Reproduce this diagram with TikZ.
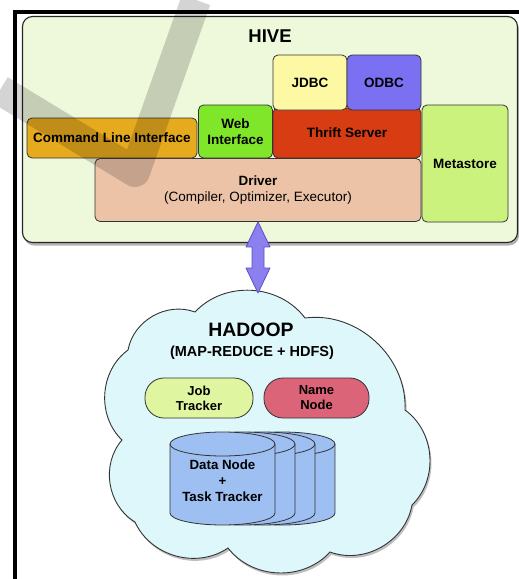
\documentclass[tikz,border=0pt]{standalone}
\usepackage{fontspec}
\setmainfont{Liberation Sans}
\usetikzlibrary{shadows,calc}
\definecolor{hivebg}{HTML}{EEF8DA}
\definecolor{jdbcc}{HTML}{FCF8A4}
\definecolor{odbcc}{HTML}{7C70F2}
\definecolor{thriftc}{HTML}{D83C12}
\definecolor{webc}{HTML}{7FE62A}
\definecolor{clic}{HTML}{E6AA1E}
\definecolor{metac}{HTML}{CCF27E}
\definecolor{driverc}{HTML}{EDC3A8}
\definecolor{arrowc}{HTML}{8C80F0}
\definecolor{arrowl}{HTML}{5A50C0}
\definecolor{cloudc}{HTML}{DDF7FB}
\definecolor{jobc}{HTML}{E0F5A0}
\definecolor{namec}{HTML}{DB6478}
\definecolor{cylc}{HTML}{9EBFF2}
\definecolor{linec}{HTML}{333333}
\begin{document}
\begin{tikzpicture}[x=1pt,y=-1pt,
  box/.style={draw=linec, line width=0.8pt, rounded corners=5pt, inner sep=0pt,
    align=center, font=\fontsize{13.5}{15.5}\selectfont\bfseries},
  pill/.style={draw=linec, line width=0.8pt, rounded corners=19pt, inner sep=0pt,
    align=center, minimum height=40pt, font=\fontsize{13}{15}\selectfont\bfseries},
  cylfill/.style={fill=cylc},
  cylline/.style={draw=linec, line width=0.8pt},
  titletext/.style={font=\fontsize{18.5}{20}\selectfont\bfseries},
  bigarrow/.style={fill=arrowc, draw=arrowl, line width=0.8pt, line join=round},
  cloudshape/.style={fill=cloudc, draw=linec, line width=0.9pt,
    drop shadow={shadow xshift=1.5pt, shadow yshift=-2.5pt, opacity=0.5}}]
\useasboundingbox (0,0) rectangle (519,579);
\fill[white] (0,0) rectangle (519,579);

% HIVE container
\node[draw=black!85, line width=1.1pt, rounded corners=10pt, fill=hivebg, minimum width=495pt, minimum height=226pt,
  drop shadow={shadow xshift=1.5pt, shadow yshift=-3pt, opacity=0.6}] (hive) at (270,129.5) {};
\node[titletext] (hivetitle) at (270,36) {HIVE};

% Driver and components
\node[box, fill=driverc, minimum width=326pt, minimum height=63pt] (driver) at (258,190)
  {\fontsize{13.4}{17}\selectfont\textbf{Driver}\\\mdseries (Compiler, Optimizer, Executor)};
\node[box, fill=metac, minimum width=86pt, minimum height=117pt] (meta) at (465,163.5) {Metastore};
\node[box, fill=clic, minimum width=170pt, minimum height=40pt] (cli) at (112,138) {Command Line Interface};
\node[box, fill=webc, minimum width=74pt, minimum height=53pt] (web) at (235.5,131.5) {Web\\Interface};
\node[box, fill=thriftc, minimum width=148pt, minimum height=50pt] (thrift) at (347,133) {Thrift Server};
\node[box, fill=jdbcc, minimum width=74pt, minimum height=55pt] (jdbc) at (310,82.5) {JDBC};
\node[box, fill=odbcc, minimum width=74pt, minimum height=55pt] (odbc) at (384,82.5) {ODBC};

% Cloud
\path[cloudshape] (195,312) to[bend left=50] (305,318) to[bend left=50] (405,410)
  to[bend left=50] (412,505) to[bend left=50] (330,552) to[bend left=50] (228,548)
  to[bend left=50] (135,522) to[bend left=50] (122,440) to[bend left=50] (128,350)
  to[bend left=50] (195,312) -- cycle;
\coordinate (ctop) at (258,293);

\node[font=\fontsize{19.4}{21}\selectfont\bfseries] (hadoop) at (251,330) {HADOOP};
\node[font=\fontsize{14.5}{16}\selectfont\bfseries] (mr) at (252,353) {(MAP-REDUCE + HDFS)};

\node[pill, fill=jobc, minimum width=108pt] (job) at (199,398) {Job\\Tracker};
\node[pill, fill=namec, minimum width=105pt] (name) at (316.5,398) {Name\\Node};

% Data node cylinders
\foreach \s in {60,40,20,0}{
  \begin{scope}[xshift=\s pt]
    \fill[cylfill] (222.5,513) ellipse[x radius=52.5, y radius=12];
    \fill[cylfill] (170,444) rectangle (275,513);
    \draw[cylline] (170,444) -- (170,513) arc[start angle=180, end angle=0, x radius=52.5, y radius=12] -- (275,444);
    \filldraw[cylfill, cylline] (222.5,444) ellipse[x radius=52.5, y radius=12];
  \end{scope}
}
\node[align=center, font=\fontsize{13.3}{16}\selectfont\bfseries] (dn) at (222.5,481) {Data Node\\+\\Task Tracker};

% Double arrow between Driver and cloud
\path[bigarrow] (driver.south) -- ($(driver.south)+(12,25)$) -- ($(driver.south)+(6,25)$)
  -- ($(ctop)+(6,-25)$) -- ($(ctop)+(12,-25)$) -- (ctop) -- ($(ctop)+(-12,-25)$)
  -- ($(ctop)+(-6,-25)$) -- ($(driver.south)+(-6,25)$) -- ($(driver.south)+(-12,25)$) -- cycle;

% Watermark
\draw[black, opacity=0.17, line width=30pt, line join=round] (0,90) -- (135,172) -- (196,0);

% Frame
\draw[black, line width=4pt] (15,579) -- (15,11.5) -- (519,11.5);
\end{tikzpicture}
\end{document}
